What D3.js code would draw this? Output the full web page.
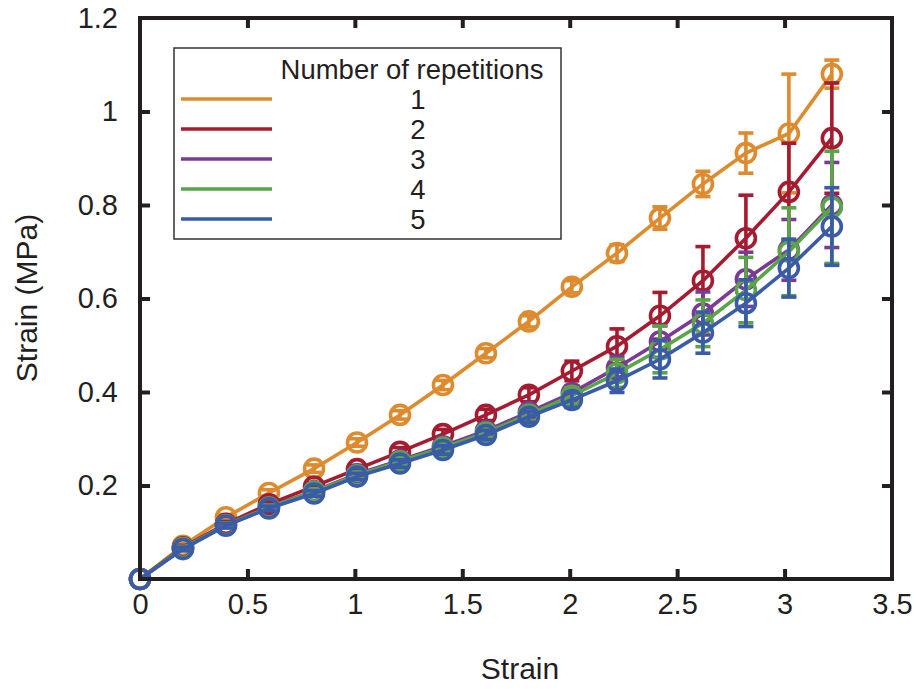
<!DOCTYPE html>
<html><head><meta charset="utf-8">
<script src="https://cdn.jsdelivr.net/npm/d3@7"></script>
<style>body{margin:0;background:#fff}svg{display:block}text{font-family:"Liberation Sans",Arial,sans-serif;fill:#231f20}</style>
</head><body><svg id="c" width="920" height="689"></svg>
<script>
const strain = [0, 0.20, 0.40, 0.60, 0.81, 1.01, 1.21, 1.41, 1.61, 1.81, 2.01, 2.22, 2.42, 2.62, 2.82, 3.02, 3.22];
const seriesNames = ["1", "2", "3", "4", "5"];
const seriesColors = ["#dd8b2e", "#a61b30", "#7b3a96", "#5aa548", "#3a5ca8"];
const rep1 = [0, 0.071, 0.132, 0.184, 0.236, 0.292, 0.351, 0.415, 0.483, 0.551, 0.625, 0.697, 0.772, 0.845, 0.911, 0.953, 1.080];
const rep2 = [0, 0.068, 0.118, 0.160, 0.198, 0.235, 0.272, 0.310, 0.351, 0.394, 0.445, 0.498, 0.563, 0.638, 0.729, 0.828, 0.943];
const rep3 = [0, 0.066, 0.116, 0.154, 0.188, 0.224, 0.254, 0.284, 0.317, 0.357, 0.398, 0.452, 0.508, 0.568, 0.641, 0.704, 0.800];
const rep4 = [0, 0.066, 0.115, 0.153, 0.187, 0.222, 0.252, 0.281, 0.313, 0.352, 0.392, 0.440, 0.491, 0.547, 0.618, 0.700, 0.795];
const rep5 = [0, 0.064, 0.114, 0.151, 0.183, 0.219, 0.247, 0.276, 0.308, 0.347, 0.383, 0.424, 0.470, 0.527, 0.590, 0.665, 0.754];
const err1 = [0, 0.005, 0.006, 0.007, 0.008, 0.008, 0.009, 0.010, 0.010, 0.012, 0.013, 0.018, 0.024, 0.027, 0.043, 0.127, 0.030];
const err2 = [0, 0.004, 0.005, 0.006, 0.007, 0.008, 0.009, 0.010, 0.012, 0.015, 0.021, 0.037, 0.050, 0.073, 0.092, 0.104, 0.118];
const err3 = [0, 0.004, 0.005, 0.005, 0.006, 0.007, 0.008, 0.009, 0.010, 0.012, 0.015, 0.024, 0.034, 0.046, 0.058, 0.065, 0.091];
const err4 = [0, 0.004, 0.005, 0.005, 0.006, 0.007, 0.008, 0.009, 0.010, 0.013, 0.017, 0.030, 0.050, 0.050, 0.070, 0.094, 0.120];
const err5 = [0, 0.004, 0.005, 0.005, 0.006, 0.007, 0.008, 0.009, 0.010, 0.012, 0.016, 0.025, 0.040, 0.044, 0.050, 0.062, 0.083];
const xTicks = [0, 0.5, 1, 1.5, 2, 2.5, 3, 3.5];
const yTicks = [0.2, 0.4, 0.6, 0.8, 1, 1.2];
const legendTitle = "Number of repetitions";
const xTitle = "Strain", yTitle = "Strain (MPa)";

const values = [rep1, rep2, rep3, rep4, rep5];
const errors = [err1, err2, err3, err4, err5];

const svg = d3.select("#c");
const L = 140, R = 892, T = 18, B = 579;
const x = d3.scaleLinear().domain([0, 3.5]).range([L, R]);
const y = d3.scaleLinear().domain([0, 1.2]).range([B, T]);
const ink = "#231f20";
const sw = 3.6;

// data
const line = d3.line().x((d) => x(d[0])).y((d) => y(d[1]));
values.forEach((vals, si) => {
  const col = seriesColors[si];
  const g = svg.append("g");
  const pts = strain.map((s, i) => [s, vals[i], errors[si][i]]);
  g.append("path").attr("d", line(pts)).attr("fill", "none").attr("stroke", col).attr("stroke-width", sw);
  const eb = g.selectAll(".eb").data(pts.filter(p => p[2] > 0)).enter().append("g");
  eb.append("line").attr("x1", d => x(d[0])).attr("x2", d => x(d[0]))
    .attr("y1", d => y(d[1] - d[2])).attr("y2", d => y(d[1] + d[2])).attr("stroke", col).attr("stroke-width", sw);
  [-1, 1].forEach(sg => {
    eb.append("line").attr("x1", d => x(d[0]) - 7.5).attr("x2", d => x(d[0]) + 7.5)
      .attr("y1", d => y(d[1] + sg * d[2])).attr("y2", d => y(d[1] + sg * d[2])).attr("stroke", col).attr("stroke-width", sw);
  });
  g.selectAll("circle").data(pts).enter().append("circle")
    .attr("cx", d => x(d[0])).attr("cy", d => y(d[1])).attr("r", 9.5)
    .attr("fill", "none").attr("stroke", col).attr("stroke-width", sw);
});

// frame
svg.append("rect").attr("x", L).attr("y", T).attr("width", R - L).attr("height", B - T)
  .attr("fill", "none").attr("stroke", ink).attr("stroke-width", 4);

// ticks (inward, mirrored)
const tl = 10;
const gx = svg.append("g").attr("transform", `translate(0,${B})`)
  .call(d3.axisBottom(x).tickValues(xTicks).tickSize(-tl).tickPadding(14).tickFormat(d3.format("")));
const gxt = svg.append("g").attr("transform", `translate(0,${T})`)
  .call(d3.axisTop(x).tickValues(xTicks).tickSize(-tl).tickFormat(""));
const gy = svg.append("g").attr("transform", `translate(${L},0)`)
  .call(d3.axisLeft(y).tickValues(yTicks).tickSize(-tl).tickPadding(22).tickFormat(d3.format("")));
const gyr = svg.append("g").attr("transform", `translate(${R},0)`)
  .call(d3.axisRight(y).tickValues(yTicks).tickSize(-tl).tickFormat(""));
[gx, gxt, gy, gyr].forEach(g => {
  g.select(".domain").remove();
  g.selectAll(".tick line").attr("stroke", ink).attr("stroke-width", 4);
  g.selectAll(".tick text").style("font-size", "29px").attr("fill", ink);
});
[gx, gxt].forEach(g => g.selectAll(".tick").filter(d => d === 0 || d === 3.5).select("line").remove());
[gy, gyr].forEach(g => g.selectAll(".tick").filter(d => d === 1.2).select("line").remove());
gx.selectAll(".tick text").attr("dy", "0.71em");

// axis titles
svg.append("text").attr("x", 520).attr("y", 679).attr("text-anchor", "middle").style("font-size", "30px").text(xTitle);
svg.append("text").attr("transform", "translate(37,298) rotate(-90)").attr("text-anchor", "middle").style("font-size", "30px").text(yTitle);

// legend
const lg = svg.append("g");
lg.append("rect").attr("x", 174).attr("y", 48).attr("width", 387).attr("height", 191)
  .attr("fill", "#fff").attr("stroke", "#333").attr("stroke-width", 1.5);
lg.append("text").attr("x", 412).attr("y", 79).attr("text-anchor", "middle").style("font-size", "27.5px").text(legendTitle);
seriesNames.forEach((n, i) => {
  const yy = 99 + i * 30;
  lg.append("line").attr("x1", 181).attr("x2", 272).attr("y1", yy).attr("y2", yy)
    .attr("stroke", seriesColors[i]).attr("stroke-width", 3.5);
  lg.append("text").attr("x", 418).attr("y", yy + 10).attr("text-anchor", "middle").style("font-size", "27.5px").text(n);
});
</script></body></html>
